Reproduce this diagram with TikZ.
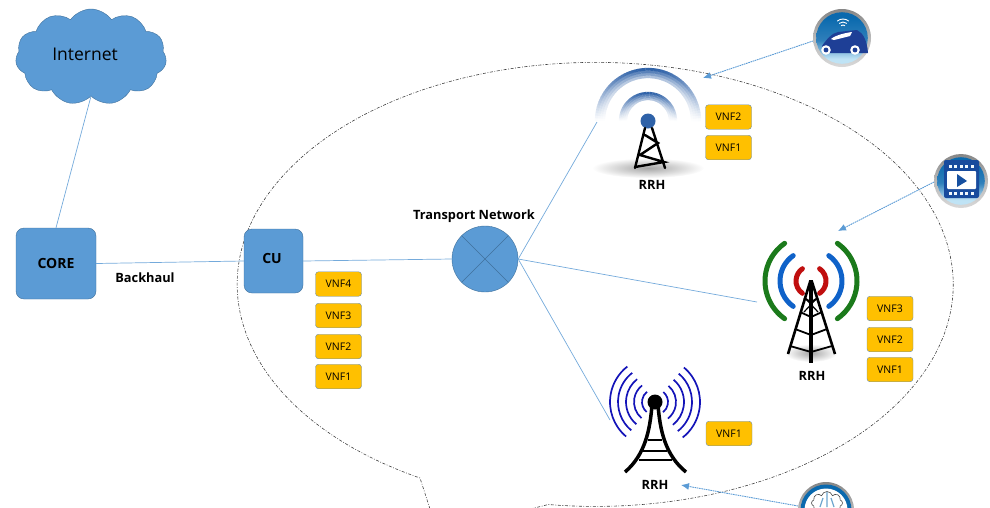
\documentclass[tikz,border=0pt]{standalone}
\usepackage{fontspec}
\setmainfont{Open Sans}
\usetikzlibrary{arrows.meta, shapes.symbols}
\definecolor{boxblue}{HTML}{5B9BD5}
\definecolor{boxline}{HTML}{41719C}
\definecolor{vnfgold}{HTML}{FFC000}
\definecolor{wavegreen}{HTML}{1B7A1B}
\definecolor{waveblue}{HTML}{0F62C9}
\definecolor{wavered}{HTML}{C00F0F}
\definecolor{wavenavy}{HTML}{1414B8}
\definecolor{towerblue}{HTML}{2F62A8}
\definecolor{cardark}{HTML}{1E3F96}
\definecolor{icontop}{HTML}{0A69AE}
\definecolor{iconlow}{HTML}{BFE3F5}
\pgfdeclareverticalshading{icondisc}{100bp}{color(0bp)=(iconlow); color(30bp)=(iconlow); color(48bp)=(icontop!85!white); color(70bp)=(icontop); color(100bp)=(icontop)}
\pgfdeclareverticalshading{iconrim}{100bp}{color(0bp)=(gray!30); color(25bp)=(gray!30); color(50bp)=(gray!55); color(75bp)=(gray!95); color(100bp)=(gray)}
\tikzset{
  netbox/.style = {draw=boxline, fill=boxblue, rounded corners=8, font=\bfseries\fontsize{14}{14}\selectfont, inner sep=0},
  vnf/.style = {draw=boxline!80!white, fill=vnfgold, rounded corners=3, minimum width=46, minimum height=24.5, inner sep=0, font=\fontsize{10.5}{11}\selectfont},
  tag/.style = {font=\bfseries\fontsize{12.8}{13}\selectfont, inner sep=0},
  link/.style = {draw=boxblue!85!white, line width=.7},
  feed/.style = {draw=boxblue, line width=.9, dash pattern=on 1.6 off .7, -{Latex[length=8,width=7]}},
  bar/.style = {black, line width=2.4, line cap=round}
}
% ring of the round service icons
\newcommand{\iconring}[3]{
  \shade[shading=iconrim] (#1,#2) circle (#3);
  \shade[shading=icondisc] (#1,#2) circle (#3-3.2);
}
% fading arc of the first tower, r and w are radius and width
\newcommand{\fadearc}[2]{
  \foreach \k in {0,1,2,3} {
    \pgfmathsetmacro{\rr}{#1+(\k-1.5)*#2/4}
    \foreach \a in {180,183,...,357} {
      \pgfmathsetmacro{\p}{(40+20*\k)*pow(-sin(\a+1.5),1.1)}
      \draw[line width=#2/4+.3, color=towerblue!\p!white] (648,121) ++(\a:\rr) arc[start angle=\a, end angle=\a+3.4, radius=\rr];
    }
  }
}
\begin{document}
\begin{tikzpicture}[x=1pt, y=-1pt]
\useasboundingbox (0,0) rectangle (990,507);
% outline of the covered area
\draw[black!75, line width=.6, dash pattern=on 3 off 1.6 on .8 off 1.6] (430,509) -- (420,478)
  arc[start angle=119.3, end angle=457.5, x radius=358, y radius=222] -- (530,509);
% main nodes
\node[draw=boxline, fill=boxblue, cloud, cloud puffs=11, cloud puff arc=110, aspect=1.5, minimum width=151, minimum height=96, inner sep=0] (internet) at (91,57) {};
\node[font=\fontsize{17.5}{18}\selectfont, inner sep=0] (inlabel) at (85,54) {Internet};
\node[netbox, minimum width=80, minimum height=71] (core) at (56,263.5) {CORE};
\node[netbox, minimum width=59, minimum height=64] (cu) at (273.5,261) {};
\node[netbox, draw=none, fill=none] (culabel) at (272,258) {CU};
\node[draw=boxline, fill=boxblue, circle, minimum size=66, inner sep=0] (tn) at (485,259) {};
\draw[boxline, line width=.6] (tn.45) -- (tn.225) (tn.135) -- (tn.315);
\node[tag] (tnlabel) at (474,216) {Transport Network};
\node[tag] (backhaul) at (145,278) {Backhaul};
% free ends
\coordinate (rrhone) at (597,122);
\coordinate (rrhtwo) at (757,302);
\coordinate (rrhthree) at (610,420);
\draw[link] (internet.south) -- (core.north);
\draw[link] (core.east) -- (cu.west);
\draw[link] (cu.east) -- (tn.west);
\draw[link] (tn.east) -- (rrhone);
\draw[link] (tn.east) -- (rrhtwo);
\draw[link] (tn.east) -- (rrhthree);
% VNF stacks
\node[vnf] (cufour) at (338.5,284) {VNF4};
\node[vnf] (cuthree) at (338.5,315.5) {VNF3};
\node[vnf] (cutwo) at (338.5,346.5) {VNF2};
\node[vnf] (cuone) at (338.5,376.5) {VNF1};
\node[vnf] (onetwo) at (728.5,117) {VNF2};
\node[vnf] (oneone) at (728.5,147.5) {VNF1};
\node[vnf] (twothree) at (890,308.5) {VNF3};
\node[vnf] (twotwo) at (890,339.5) {VNF2};
\node[vnf] (twoone) at (890,369.5) {VNF1};
\node[vnf] (threeone) at (729,433.5) {VNF1};
\node[tag] (rrha) at (652,185) {RRH};
\node[tag] (rrhb) at (812,376) {RRH};
\node[tag] (rrhc) at (655,485) {RRH};
% first tower
\shade[inner color=black!35, outer color=white] (648,168) ellipse (56 and 10);
\fadearc{48}{10}
\fadearc{25}{8}
\fill[towerblue] (648,121) circle (7.5);
\draw[bar] (645,128) -- (635,168) (652,128) -- (665,168) (635,167) -- (664,162) -- (640,155) -- (658,143) -- (645,135);
% second tower
\shade[inner color=black!35, outer color=white] (811,353) ellipse (26 and 9);
\foreach \c/\r in {wavegreen/46, waveblue/31, wavered/15} {
  \draw[\c, line width=5, line cap=round] (811,281) ++(-55:\r) arc[start angle=-55, end angle=55, radius=\r];
  \draw[\c, line width=5, line cap=round] (811,281) ++(125:\r) arc[start angle=125, end angle=235, radius=\r];
}
\draw[black, line width=2.6] (788,354) -- (810,282) -- (812,282) -- (835,354);
\draw[black, line width=3.6] (811,280) -- (811,363);
\draw[black, line width=1.8] (804,298) -- (811,302) -- (818,298) (800,312) -- (811,317) -- (822,312)
  (795,329) -- (811,335) -- (827,329) (790,346) -- (811,352) -- (832,346);
\draw[black, line width=1.2] (805,298) -- (818,312) (817,298) -- (804,312);
% third tower
\foreach \r in {13,21,29,37,45} {
  \draw[wavenavy, line width=1.7] (655,402) ++(-50:\r) arc[start angle=-50, end angle=52, radius=\r];
  \draw[wavenavy, line width=1.7] (655,402) ++(130:\r) arc[start angle=130, end angle=232, radius=\r];
}
\fill[black] (655,402) circle (7.5);
\draw[black, line width=3.5] (652,405) .. controls (650,430) and (645,455) .. (625,472)
  (658,405) .. controls (660,430) and (665,455) .. (686,472);
\draw[black, line width=2.6] (648,440) -- (662,440) (643,451) -- (667,451) (639,460) -- (672,460);
% car icon
\iconring{842}{38}{29}
\fill[cardark] (822,53) -- (822,46) .. controls (826,40) and (832,33) .. (838,32) -- (857,30) .. controls (863,33) and (867,40) .. (868,53) -- cycle;
\fill[white] (831,39) .. controls (836,35) and (845,33) .. (852,32) -- (850,36) -- (834,40) -- cycle;
\foreach \x in {826,855} {
  \fill[white] (\x,50) circle (4.8);
  \fill[cardark] (\x,50) circle (2.4);
}
\foreach \r in {3,6,9} {
  \draw[white, line width=.9] (843,28) ++(230:\r) arc[start angle=230, end angle=310, radius=\r];
}
% video icon
\iconring{961}{181}{27}
\fill[cardark!70!icontop, rounded corners=2] (944,160) rectangle (979,198);
\foreach \x in {950,955.5,961,966.5,972} {
  \fill[white!80!iconlow] (\x-1.5,164.5) rectangle (\x+1.5,167.5);
  \fill[white!80!iconlow] (\x-1.5,192) rectangle (\x+1.5,195);
}
\fill[white, rounded corners=1] (947,171) rectangle (976,189);
\fill[cardark!60!icontop] (957,174) -- (967,181) -- (957,187) -- cycle;
% cloud icon
\shade[shading=iconrim] (826,510) circle (28);
\fill[icontop] (826,510) circle (25.5);
\fill[white] (826,510) circle (21.5);
\node[draw=black!70, cloud, cloud puffs=8, aspect=1.3, minimum width=31, minimum height=23, line width=.6, inner sep=0] (treecloud) at (827,503) {};
\draw[icontop!60!white, line width=1.2] (827,492) -- (827,507) (823,498) -- (820,507) (831,498) -- (834,507);
% feeds
\coordinate (carend) at (703,78);
\coordinate (videnda) at (838,231);
\coordinate (cloudend) at (681,485);
\coordinate (carstart) at (813,41);
\coordinate (vidstart) at (934,182);
\coordinate (cloudstart) at (798,506);
\draw[feed] (carstart) -- (carend);
\draw[feed] (vidstart) -- (videnda);
\draw[feed] (cloudstart) -- (cloudend);
\end{tikzpicture}
\end{document}
